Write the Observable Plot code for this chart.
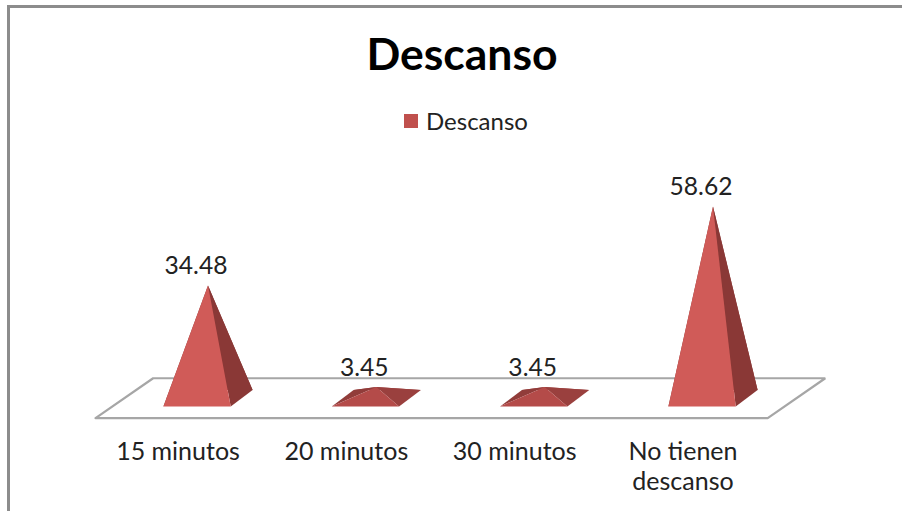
<!DOCTYPE html>
<html>
<head>
<meta charset="utf-8">
<script src="https://cdn.jsdelivr.net/npm/d3@7"></script>
<script src="https://cdn.jsdelivr.net/npm/@observablehq/plot@0.6"></script>
<style>
  html, body { margin: 0; padding: 0; background: #fff; }
  #chart {
    position: relative; width: 902px; height: 511px; overflow: hidden;
    font-family: Lato, sans-serif; color: #111;
  }
  #edge {
    position: absolute; left: 7px; top: 5px; right: -4px; bottom: -4px;
    border: 3px solid #8c8c8c; box-sizing: border-box;
  }
  #title {
    position: absolute; left: 0; width: 924px; top: 26px; text-align: center;
    font-size: 44.5px; font-weight: 700; color: #000; line-height: 54px;
  }
  #legend {
    position: absolute; left: 404px; top: 106px; display: flex; align-items: center;
    font-size: 24px; line-height: 30px; color: #222;
  }
  #legend i { display: block; width: 14px; height: 14px; background: #c0504d; margin-right: 8px; }
  #plot { position: absolute; left: 0; top: 140px; }
</style>
</head>
<body>
<div id="chart">
  <div id="edge"></div>
  <div id="title">Descanso</div>
  <div id="legend"><i></i><span>Descanso</span></div>
  <div id="plot"></div>
</div>
<script>
// Share of respondents per rest-break length
const categories = ["15 minutos", "20 minutos", "30 minutos", "No tienen\ndescanso"];
const values = [34.48, 3.45, 3.45, 58.62];

// Pyramid and floor proportions, in scale units
const halfBase = 0.2;
const depthX = 0.13;
const depthY = 2.5;
const floorLeft = -0.668;
const floorRight = 3.325;
const floorDepthX = 0.342;
const floorDepthY = 6.1;

const rows = categories.map((label, i) => ({label, i, value: values[i]}));

// Base corners of a pyramid, sheared to give the floor its perspective
const apex = (d) => [d.i, d.value];
const frontLeft = (d) => [d.i - halfBase - depthX / 2, -depthY];
const frontRight = (d) => [d.i + halfBase - depthX / 2, -depthY];
const backRight = (d) => [d.i + halfBase + depthX / 2, depthY];
const backLeft = (d) => [d.i - halfBase + depthX / 2, depthY];

// One polygon per pyramid for a given face; vertices stay in data units
const facePoints = (shape) =>
  rows.flatMap((d) => shape(d).map(([px, py]) => ({pyramid: d.i, value: d.value, px, py})));

const faces = [
  {shape: (d) => [backLeft(d), backRight(d), apex(d)], tall: "#8a3836", low: "#a04341"},
  {shape: (d) => [frontLeft(d), backLeft(d), apex(d)], tall: "#8a3836", low: "#913c3a"},
  {shape: (d) => [frontRight(d), backRight(d), apex(d)], tall: "#8a3836", low: "#9a403e"},
  {shape: (d) => [frontLeft(d), frontRight(d), apex(d)], tall: "#d05b58", low: "#b44b49"}
];

const floor = [
  {px: floorLeft, py: -floorDepthY},
  {px: floorRight, py: -floorDepthY},
  {px: floorRight + floorDepthX, py: floorDepthY},
  {px: floorLeft + floorDepthX, py: floorDepthY}
];

const plot = Plot.plot({
  width: 902,
  height: 371,
  marginBottom: 81,
  style: {fontFamily: "Lato, sans-serif", background: "transparent"},
  x: {domain: [0, 3], range: [207.5, 712.5]},
  y: {domain: [0, 60], range: [257.7, 61.5], axis: null},
  marks: [
    Plot.line([...floor, floor[0]], {x: "px", y: "py", stroke: "#a6a6a6", strokeWidth: 2.2, strokeLinejoin: "miter"}),
    ...faces.map((f) =>
      Plot.line(facePoints(f.shape), {
        x: "px",
        y: "py",
        z: "pyramid",
        fill: (d) => (d.value > 10 ? f.tall : f.low),
        stroke: null
      })
    ),
    Plot.text(rows, {
      x: "i",
      y: "value",
      text: (d) => d.value.toFixed(2),
      dx: -12,
      dy: -19,
      fontSize: 24.6,
      fill: "#222"
    }),
    Plot.axisX(d3.range(categories.length), {
      anchor: "bottom",
      tickSize: 0,
      tickPadding: 8,
      dx: -30,
      fontSize: 25,
      lineHeight: 1.2,
      tickFormat: (i) => categories[i],
      fill: "#222",
      label: null
    })
  ]
});
document.getElementById("plot").append(plot);
</script>
</body>
</html>
